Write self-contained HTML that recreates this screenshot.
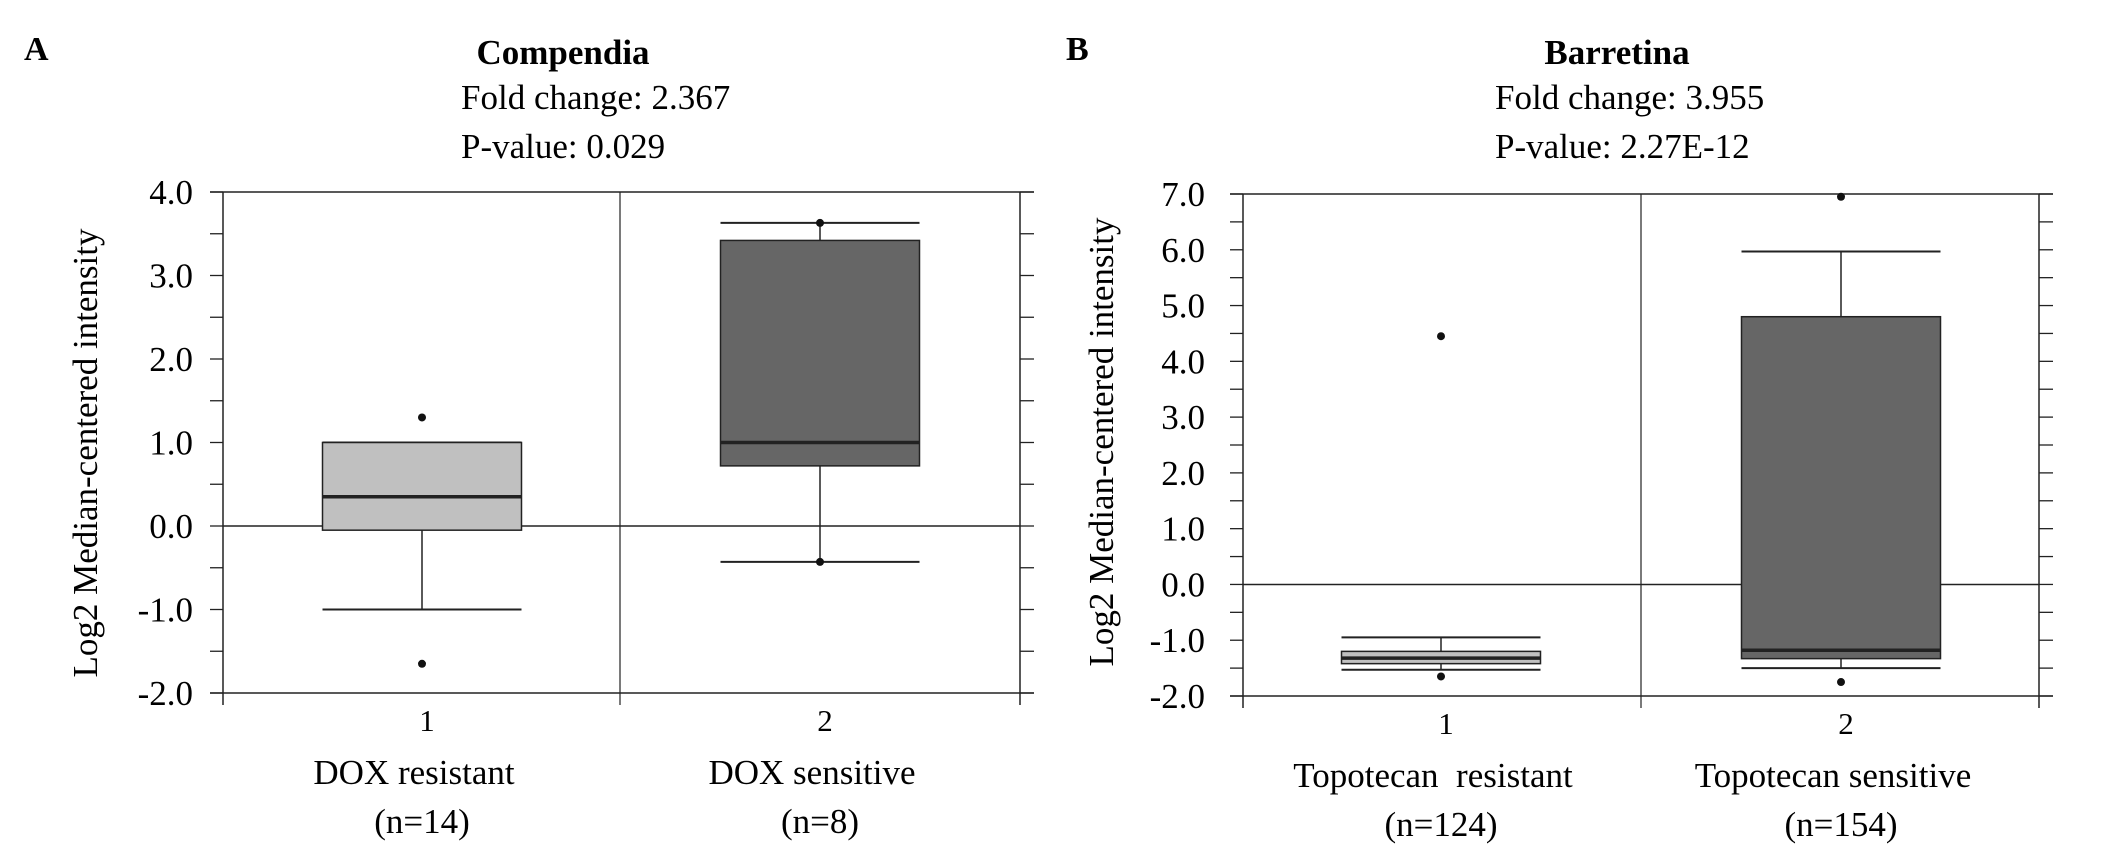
<!DOCTYPE html>
<html><head><meta charset="utf-8"><style>
body{margin:0;background:#fff}
svg{display:block;font-family:"Liberation Serif",serif}
</style></head><body>
<svg id="c" width="2126" height="856" xmlns="http://www.w3.org/2000/svg"></svg>
<script>
const panelLabels = ["A", "B"];
const titles = ["Compendia", "Barretina"];
const foldChanges = ["Fold change: 2.367", "Fold change: 3.955"];
const pValues = ["P-value: 0.029", "P-value: 2.27E-12"];
const groupNames = [["DOX resistant", "DOX sensitive"], ["Topotecan  resistant", "Topotecan sensitive"]];
const groupN = [["(n=14)", "(n=8)"], ["(n=124)", "(n=154)"]];
const yMin = [-2, -2];
const yMax = [4, 7];
// box stats: [whiskerLow, q1, median, q3, whiskerHigh]
const statsA = [[-1.0, -0.05, 0.35, 1.0, 1.0], [-0.43, 0.72, 1.0, 3.42, 3.63]];
const statsB = [[-1.53, -1.42, -1.32, -1.2, -0.95], [-1.5, -1.33, -1.18, 4.8, 5.97]];
const outliersA = [[1.3, -1.65], [3.63, -0.43]];
const outliersB = [[4.45, -1.65], [6.95, -1.75]];
const boxFill = ["#c0c0c0", "#666666"];

const svg = document.getElementById('c');
const NS = "http://www.w3.org/2000/svg";
function mk(tag, attrs, parent) {
  const e = document.createElementNS(NS, tag);
  for (const k in attrs) e.setAttribute(k, attrs[k]);
  (parent || svg).appendChild(e);
  return e;
}
const layouts = [
  {L:223, R:1020, T:192, B:693, mid:620, cx:[422,820], bw:199, titleX:563, infoX:461, labX:24, ytX:86, ytY:453, tickR:193},
  {L:1243, R:2039, T:194, B:696, mid:1641, cx:[1441,1841], bw:199, titleX:1617, infoX:1495, labX:1066, ytX:1102, ytY:442, tickR:1205}
];
const allStats = [statsA, statsB];
const allOut = [outliersA, outliersB];

layouts.forEach((p, i) => {
  const g = mk('g', {});
  
  
  const y = v => p.T + (yMax[i] - v) / (yMax[i] - yMin[i]) * (p.B - p.T);
  const t1 = mk('text', {x:p.labX, y:60, 'font-size':34, 'font-weight':'bold'}, g); t1.textContent = panelLabels[i];
   
  const t2 = mk('text', {x:p.titleX, y:64, 'font-size':35, 'font-weight':'bold', 'text-anchor':'middle'}, g); t2.textContent = titles[i];
   
  const t3 = mk('text', {x:p.infoX, y:109, 'font-size':35}, g); t3.textContent = foldChanges[i];
   
  const t4 = mk('text', {x:p.infoX, y:158, 'font-size':35}, g); t4.textContent = pValues[i];
   
  const yt = mk('text', {x:p.ytX, y:p.ytY, 'font-size':35, 'text-anchor':'middle', transform:`rotate(-90 ${p.ytX} ${p.ytY})`, dy:11}, g);
  yt.textContent = "Log2 Median-centered intensity";
   
  const ln = (x1,y1,x2,y2,w,nm) => { const l = mk('line', {x1,y1,x2,y2,stroke:'#222','stroke-width':w||1.5}, g);   return l; };
  ln(p.L-13, p.T, p.R+14, p.T, 1.5, 'top-border');
  ln(p.L-13, p.B, p.R+14, p.B, 1.5, 'bottom-border');
  ln(p.L, p.T, p.L, p.B+12, 1.5, 'y-axis');
  ln(p.R, p.T, p.R, p.B+12, 1.5, 'right-border');
  ln(p.mid, p.T, p.mid, p.B+12, 1.2, 'group-divider');
  ln(p.L, y(0), p.R, y(0), 1.5, 'zero-line');
  for (let v = yMin[i]; v <= yMax[i] + 1e-9; v += 0.5) {
    ln(p.L-13, y(v), p.L, y(v), 1.3, 'y-tick');
    ln(p.R, y(v), p.R+14, y(v), 1.3, 'y-tick-right');
    if (Math.abs(v - Math.round(v)) < 1e-9) {
      const tl = mk('text', {x:p.tickR, y:y(v)+12, 'font-size':35, 'text-anchor':'end'}, g);
      tl.textContent = v.toFixed(1);
       
    }
  }
  allStats[i].forEach((s, j) => {
    const cx = p.cx[j], hw = p.bw / 2;
    ln(cx, y(s[0]), cx, y(s[1]), 1.5, 'whisker');
    ln(cx, y(s[3]), cx, y(s[4]), 1.5, 'whisker');
    ln(cx-hw, y(s[0]), cx+hw, y(s[0]), 2, 'whisker-cap-low');
    ln(cx-hw, y(s[4]), cx+hw, y(s[4]), 2, 'whisker-cap-high');
    const r = mk('rect', {x:cx-hw, y:y(s[3]), width:p.bw, height:y(s[1])-y(s[3]), fill:boxFill[j], stroke:'#222', 'stroke-width':1.5}, g);
     
    ln(cx-hw, y(s[2]), cx+hw, y(s[2]), 3.5, 'median-line');
    allOut[i][j].forEach(o => {
      const c = mk('circle', {cx:cx, cy:y(o), r:4, fill:'#111'}, g);
       
    });
    const xl = mk('text', {x:cx+5, y:p.B+38, 'font-size':31, 'text-anchor':'middle'}, g); xl.textContent = String(j+1);
     
    const gn = mk('text', {x:cx-8, y:p.B+91, 'font-size':35, 'text-anchor':'middle'}, g); gn.textContent = groupNames[i][j];
     
    gn.setAttribute('xml:space', 'preserve'); gn.style.whiteSpace = 'pre';
    const nn = mk('text', {x:cx, y:p.B+140, 'font-size':35, 'text-anchor':'middle'}, g); nn.textContent = groupN[i][j];
     
  });
});
</script>
</body></html>
